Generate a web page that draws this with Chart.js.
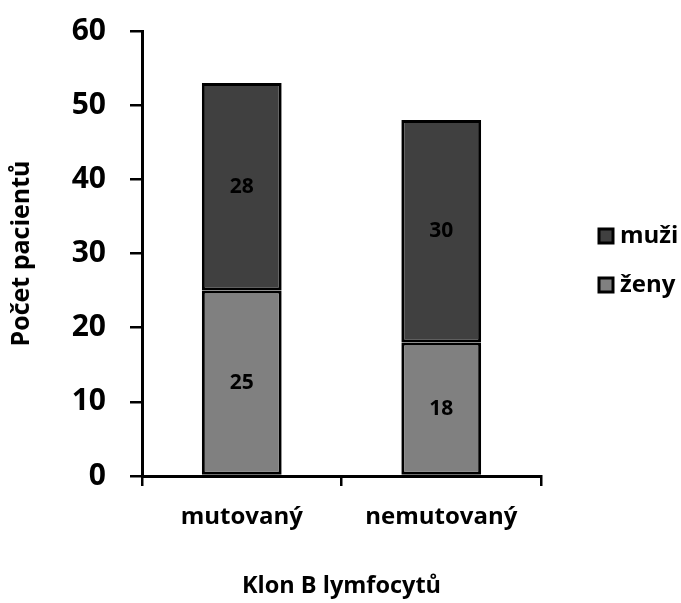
<!DOCTYPE html>
<html>
<head>
<meta charset="utf-8">
<script src="https://cdn.jsdelivr.net/npm/chart.js@4"></script>
<style>
  html, body { margin: 0; padding: 0; background: #fff; }
  #wrap { width: 681px; height: 603px; }
</style>
</head>
<body>
<div id="wrap"><canvas id="chart" width="681" height="603"></canvas></div>
<script>
// data
const categories = ['mutovaný', 'nemutovaný'];
const zeny = [25, 18];
const muzi = [28, 30];
const yTicks = [0, 10, 20, 30, 40, 50, 60];

const FONT = '"Open Sans", Lato, sans-serif';

// popisky hodnot uprostred segmentu
const valueLabels = {
    id: 'valueLabels',
    afterDatasetsDraw(chart) {
        const ctx = chart.ctx;
        ctx.save();
        ctx.font = 'bold 21px ' + FONT;
        ctx.fillStyle = '#000';
        ctx.textAlign = 'center';
        ctx.textBaseline = 'middle';
        chart.data.datasets.forEach((ds, i) => {
            chart.getDatasetMeta(i).data.forEach((bar, j) => {
                const p = bar.getProps(['x', 'y', 'base'], true);
                ctx.fillText(ds.data[j], p.x, (p.y + p.base) / 2);
            });
        });
        ctx.restore();
    }
};

// legenda vpravo (muzi nahore)
const sideLegend = {
    id: 'sideLegend',
    afterDraw(chart) {
        const ctx = chart.ctx;
        const items = chart.data.datasets.slice().reverse();
        ctx.save();
        ctx.font = 'bold 24px ' + FONT;
        ctx.textBaseline = 'middle';
        items.forEach((ds, i) => {
            const cy = 236 + i * 49;
            ctx.fillStyle = ds.backgroundColor;
            ctx.fillRect(599, cy - 7, 14, 14);
            ctx.lineWidth = 3;
            ctx.strokeStyle = '#000';
            ctx.strokeRect(599, cy - 7, 14, 14);
            ctx.fillStyle = '#000';
            ctx.fillText(ds.label, 620, cy);
        });
        ctx.restore();
    }
};

new Chart(document.getElementById('chart').getContext('2d'), {
    type: 'bar',
    data: {
        labels: categories,
        datasets: [
            { label: 'ženy', data: zeny, backgroundColor: '#808080', borderColor: '#000', borderWidth: 3, borderSkipped: false },
            { label: 'muži', data: muzi, backgroundColor: '#404040', borderColor: '#000', borderWidth: 3, borderSkipped: false }
        ]
    },
    options: {
        responsive: false,
        animation: false,
        layout: { padding: { top: 31, right: 140, bottom: 0, left: 0 } },
        datasets: { bar: { barPercentage: 0.4, categoryPercentage: 1 } },
        plugins: {
            legend: { display: false },
            tooltip: { enabled: false }
        },
        scales: {
            x: {
                stacked: true,
                grid: { drawOnChartArea: false, drawTicks: true, tickLength: 10, color: '#000', lineWidth: 2.5 },
                border: { color: '#000', width: 3 },
                ticks: { color: '#000', font: { family: FONT, size: 24, weight: 'bold' }, padding: 17 },
                title: { display: true, text: 'Klon B lymfocytů', color: '#000', font: { family: FONT, size: 23.5, weight: 'bold' }, padding: { bottom: 3 } },
                afterFit(scale) { scale.height = 127; }
            },
            y: {
                stacked: true,
                min: 0,
                max: 60,
                afterBuildTicks(scale) { scale.ticks = yTicks.map(v => ({ value: v })); },
                grid: { drawOnChartArea: false, drawTicks: true, tickLength: 12, color: '#000', lineWidth: 2.5 },
                border: { color: '#000', width: 3 },
                ticks: { color: '#000', font: { family: FONT, size: 30, weight: 'bold' }, padding: 24 },
                title: { display: true, text: 'Počet pacientů', color: '#000', font: { family: FONT, size: 25, weight: 'bold' }, padding: { top: 7 } },
                afterFit(scale) {
                    scale.width = 142;
                    scale.paddingTop = 0;
                    scale.paddingBottom = 0;
                }
            }
        }
    },
    plugins: [valueLabels, sideLegend]
});
</script>
</body>
</html>
